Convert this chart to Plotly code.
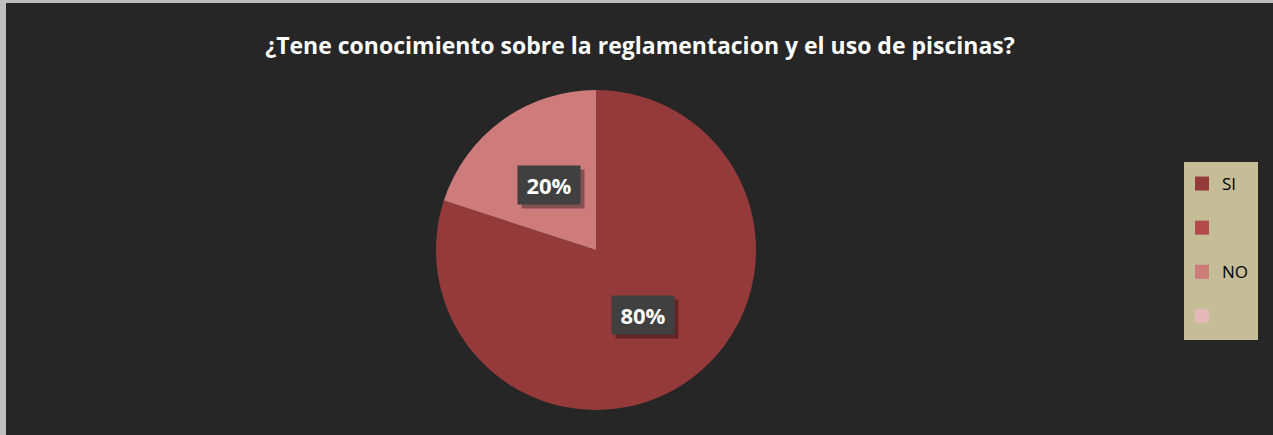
import math
import plotly.graph_objects as go

title = "¿Tene conocimiento sobre la reglamentacion y el uso de piscinas?"
categories = ["SI", " ", "NO", "  "]
values = [80, 0, 20, 0]
colors = ["#953A3A", "#B44B4B", "#CD7B7B", "#E6B9B9"]
pct_labels = ["80%", "", "20%", ""]

W, H = 1273, 435
M_T, M_B = 90, 25
plot_h = H - M_T - M_B
R = plot_h / 2
CX = 596
CY = M_T + R


def py2paper(py):
    return (H - M_B - py) / plot_h


fig = go.Figure()
fig.add_trace(go.Pie(
    labels=categories, values=values, marker=dict(colors=colors, line=dict(width=0)),
    sort=False, direction="clockwise", rotation=0, textinfo="none",
    hoverinfo="label+percent", showlegend=False,
    domain=dict(x=[(CX - R) / W, (CX + R) / W], y=[0, 1]),
))

for name, col in zip(categories, colors):
    fig.add_trace(go.Scatter(
        x=[None], y=[None], mode="markers", name=name, legendgroup=name,
        marker=dict(symbol="square", size=14, color=col),
    ))

total = sum(values)
cum = 0
for v, lab in zip(values, pct_labels):
    if v > 0 and lab:
        mid = (cum + v / 2) / total * 2 * math.pi
        px = CX + 0.5 * R * math.sin(mid)
        py = CY - 0.5 * R * math.cos(mid)
        # shadow
        fig.add_annotation(
            x=(px + 4) / W, y=py2paper(py + 4), xref="paper", yref="paper",
            xanchor="center", yanchor="middle",
            text="", showarrow=False, bgcolor="rgba(0,0,0,0.35)", width=62, height=38, borderpad=0,
        )
        fig.add_annotation(
            x=px / W, y=py2paper(py), xref="paper", yref="paper",
            xanchor="center", yanchor="middle",
            text="<b>%s</b>" % lab, showarrow=False,
            font=dict(family="Open Sans", size=22, color="white"),
            bgcolor="#404040", width=62, height=38, borderpad=0,
        )
    cum += v

# legend background box
fig.add_shape(type="rect", xref="paper", yref="paper", x0=1184 / W, x1=1258 / W,
              y0=py2paper(340), y1=py2paper(162), fillcolor="#C4BD97",
              line=dict(width=0), layer="below")

# frame lines (top and left)
fig.add_shape(type="line", xref="paper", yref="paper", x0=0, x1=1,
              y0=py2paper(1.5), y1=py2paper(1.5), line=dict(color="#BFBFBF", width=3))
fig.add_shape(type="line", xref="paper", yref="paper", x0=3 / W, x1=3 / W,
              y0=py2paper(H), y1=py2paper(0), line=dict(color="#BFBFBF", width=6))

fig.update_layout(
    width=W, height=H,
    paper_bgcolor="#262626", plot_bgcolor="rgba(0,0,0,0)",
    margin=dict(l=0, r=0, t=M_T, b=M_B),
    title=dict(text="<b>%s</b>" % title, x=640 / W, xanchor="center", y=1 - 46 / H, yanchor="middle",
               font=dict(family="Open Sans", size=23, color="white")),
    xaxis=dict(visible=False, range=[0, 1]), yaxis=dict(visible=False, range=[0, 1]),
    legend=dict(x=1182 / W, xanchor="left", y=py2paper(166), yanchor="top",
                bgcolor="rgba(0,0,0,0)", font=dict(family="Open Sans", size=17, color="black"),
                tracegroupgap=19, itemclick=False),
    showlegend=True,
)

fig.write_html("out.html", config={"displayModeBar": False},
               post_script="document.body.style.margin='0';")
